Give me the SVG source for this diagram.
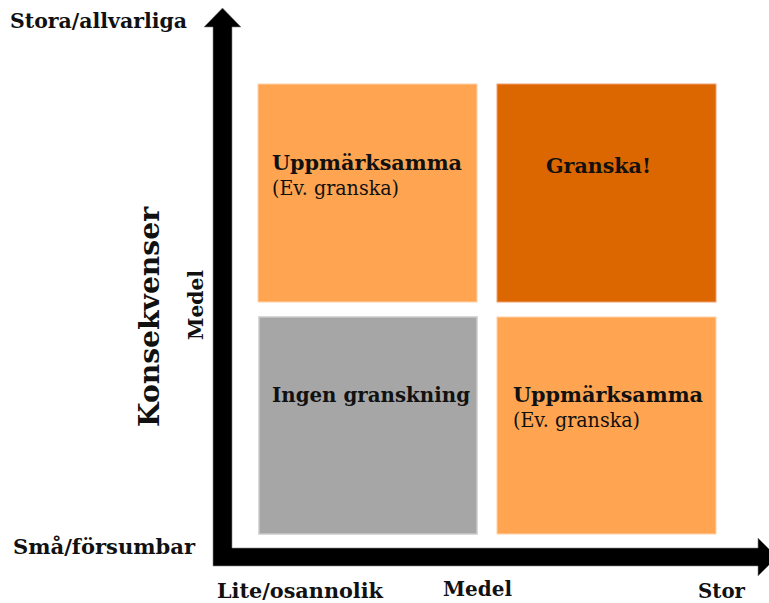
<svg xmlns="http://www.w3.org/2000/svg" width="769" height="603" viewBox="0 0 769 603">
<style>
text { font-family: "DejaVu Serif", "Liberation Serif", serif; fill: #111; }
.b { font-weight: bold; }
.lbl { font-size: 20px; font-weight: bold; }
.box { font-size: 20.5px; }
.light { fill: #FFA551; stroke: #FFD2A8; stroke-width: 1; }
.dark { fill: #DC6700; stroke: #F0A070; stroke-width: 1; }
.gray { fill: #A6A6A6; stroke: #CACACA; stroke-width: 1.5; }
</style>
<rect width="769" height="603" fill="#ffffff"/>
<g id="connectors">
  <path d="M204 27 L222.5 8 L241 27 L232 27 L232 548 L758 548 L758 538 L777 557 L758 576 L758 566 L213 566 L213 27 Z" fill="#000" stroke="#888" stroke-width="0.6"/>
</g>
<g id="axis-labels">
  <text class="lbl" x="10" y="28" textLength="177" lengthAdjust="spacingAndGlyphs">Stora/allvarliga</text>
  <text class="lbl" x="13" y="554" textLength="182" lengthAdjust="spacingAndGlyphs">Små/försumbar</text>
  <text class="lbl" x="217" y="598" textLength="166" lengthAdjust="spacingAndGlyphs">Lite/osannolik</text>
  <text class="lbl" x="443" y="596" textLength="69" lengthAdjust="spacingAndGlyphs">Medel</text>
  <text class="lbl" x="698" y="598" textLength="47" lengthAdjust="spacingAndGlyphs">Stor</text>
  <text class="b" font-size="28" transform="translate(159,427) rotate(-90)" textLength="220" lengthAdjust="spacingAndGlyphs">Konsekvenser</text>
  <text class="lbl" transform="translate(203,340) rotate(-90)" textLength="70" lengthAdjust="spacingAndGlyphs">Medel</text>
</g>
<g id="node-tl">
  <rect class="light" x="258" y="84" width="219" height="218"/>
  <text class="box b" x="272" y="170" textLength="190" lengthAdjust="spacingAndGlyphs">Uppmärksamma</text>
  <text class="box" x="272" y="195" textLength="127" lengthAdjust="spacingAndGlyphs">(Ev. granska)</text>
</g>
<g id="node-tr">
  <rect class="dark" x="497" y="84" width="219" height="218"/>
  <text class="box b" x="546" y="173" textLength="105" lengthAdjust="spacingAndGlyphs">Granska!</text>
</g>
<g id="node-bl">
  <rect class="gray" x="259" y="317" width="218" height="217"/>
  <text class="box b" x="272" y="402" textLength="198" lengthAdjust="spacingAndGlyphs">Ingen granskning</text>
</g>
<g id="node-br">
  <rect class="light" x="497" y="317" width="219" height="217"/>
  <text class="box b" x="513" y="402" textLength="190" lengthAdjust="spacingAndGlyphs">Uppmärksamma</text>
  <text class="box" x="513" y="427" textLength="127" lengthAdjust="spacingAndGlyphs">(Ev. granska)</text>
</g>
</svg>
